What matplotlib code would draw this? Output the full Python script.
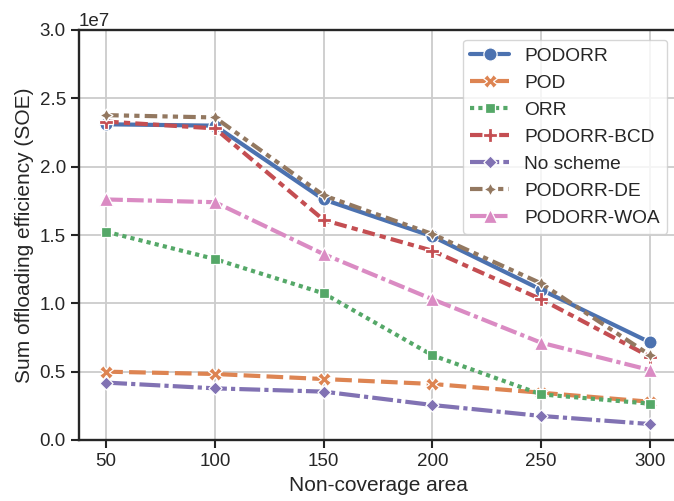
import matplotlib
matplotlib.use("Agg")
import matplotlib.pyplot as plt
import seaborn as sns

# data (units of 1e7)
areas = [50, 100, 150, 200, 250, 300]
podorr = [2.31, 2.30, 1.76, 1.49, 1.10, 0.715]
pod = [0.50, 0.483, 0.446, 0.41, 0.346, 0.28]
orr = [1.524, 1.324, 1.073, 0.62, 0.334, 0.266]
podorr_bcd = [2.33, 2.28, 1.61, 1.385, 1.03, 0.61]
no_scheme = [0.42, 0.378, 0.354, 0.256, 0.176, 0.117]
podorr_de = [2.377, 2.36, 1.79, 1.507, 1.146, 0.622]
podorr_woa = [1.76, 1.74, 1.36, 1.03, 0.712, 0.512]

labels = ["PODORR", "POD", "ORR", "PODORR-BCD", "No scheme", "PODORR-DE", "PODORR-WOA"]
series = [podorr, pod, orr, podorr_bcd, no_scheme, podorr_de, podorr_woa]

sns.set_theme(style="ticks", rc={"axes.grid": True})
plt.rcParams["font.family"] = ["Liberation Sans", "DejaVu Sans"]

colors = sns.color_palette("deep", 7)
markers = ["o", "X", (4, 0, 45), "P", (4, 0, 0), (4, 1, 0), "^"]
dashes = [(None, None), (4, 1.5), (1, 1), (3, 1.25, 1.5, 1.25), (5, 1, 1, 1),
          (3, 1.25, 1.25, 1.25, 1.25, 1.25), (4, 1, 4, 1, 1, 1)]

fig = plt.figure(figsize=(6.74, 5.01), dpi=100)
ax = fig.add_axes([79 / 674, 61 / 501, 598 / 674, 410 / 501])

for vals, lab, c, m, d in zip(series, labels, colors, markers, dashes):
    y = [v * 1e7 for v in vals]
    line, = ax.plot(areas, y, color=c, marker=m, lw=3.0, markersize=9.5,
                    markeredgecolor="w", markeredgewidth=0.9, label=lab)
    if d[0] is not None:
        line.set_dashes(d)

ax.set_ylim(0, 3.0e7)
ax.set_xticks(areas)
ax.set_yticks([0, 0.5e7, 1.0e7, 1.5e7, 2.0e7, 2.5e7, 3.0e7])
ax.grid(True, color=".8", lw=1.3)
for s in ax.spines.values():
    s.set_color(".15")
    s.set_linewidth(1.7)
ax.tick_params(labelsize=13.5, length=6, width=1.5, color=".15")
ax.yaxis.get_offset_text().set_fontsize(13.5)
ax.set_xlabel("Non-coverage area", fontsize=15)
ax.set_ylabel("Sum offloading efficiency (SOE)", fontsize=15)
ax.legend(loc="upper right", fontsize=13.8, edgecolor=".8")

fig.savefig("out.png", dpi=100)
